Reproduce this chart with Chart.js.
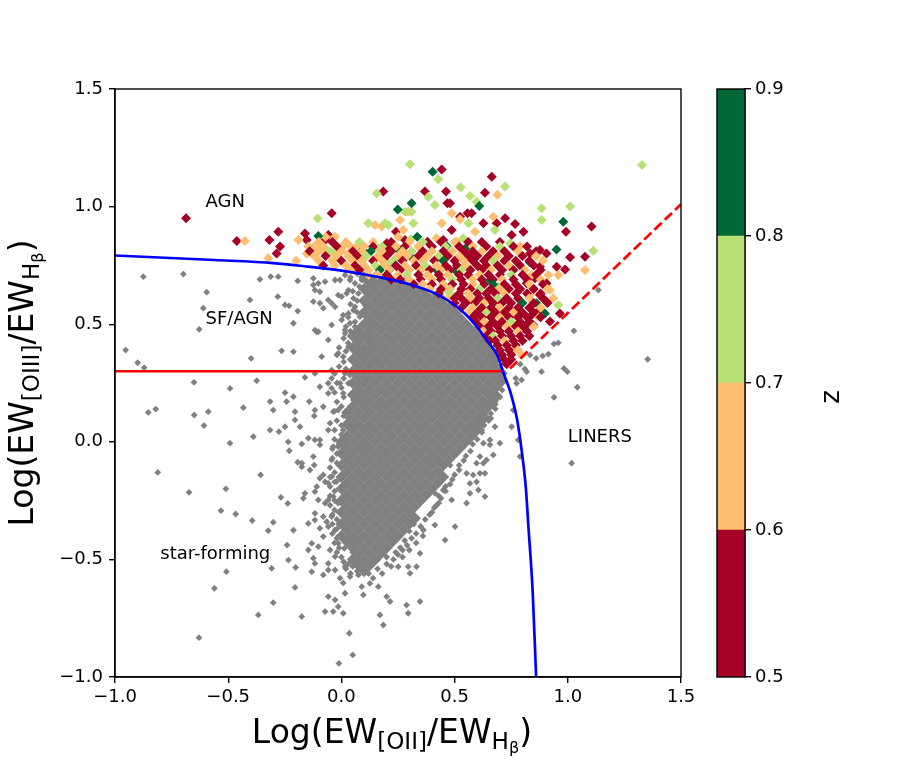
<!DOCTYPE html>
<html>
<head>
<meta charset="utf-8">
<script src="https://cdn.jsdelivr.net/npm/chart.js@4.4.1/dist/chart.umd.min.js"></script>
<style>
  html, body { margin: 0; padding: 0; background: #fff; }
  #wrap { position: relative; width: 913px; height: 762px; }
  #main { position: absolute; left: 0; top: 0; }
  #cbar { position: absolute; left: 700px; top: 0; }
</style>
</head>
<body>
<div id="wrap">
  <canvas id="main" width="913" height="762"></canvas>
  <canvas id="cbar" width="213" height="762"></canvas>
</div>
<script>
// demarcation curve
const curveX = [-1.0, -0.56, -0.3, -0.15, 0.0, 0.15, 0.3, 0.42, 0.52, 0.585, 0.64, 0.69, 0.715, 0.75, 0.775, 0.798, 0.815, 0.826, 0.845, 0.86];
const curveY = [0.792, 0.773, 0.76, 0.745, 0.728, 0.703, 0.67, 0.628, 0.567, 0.505, 0.435, 0.365, 0.295, 0.2, 0.1, -0.05, -0.2, -0.36, -0.64, -1.0];
// SF/AGN cut and LINER line
const cutX = [-1.0, 0.71];
const cutY = [0.3, 0.3];
const linerX = [0.745, 1.5];
const linerY = [0.312, 1.01];

// axis ticks
const xTicks = [-1.0, -0.5, 0.0, 0.5, 1.0, 1.5];
const yTicks = [-1.0, -0.5, 0.0, 0.5, 1.0, 1.5];

// colour bar (z bins)
const zEdges = [0.5, 0.6, 0.7, 0.8, 0.9];
const zColors = ['#a50026', '#fdbf6f', '#b7e075', '#006837'];

// region labels
const noteText = ['AGN', 'SF/AGN', 'LINERS', 'star-forming'];
const noteX = [-0.6, -0.6, 1.0, -0.8];
const noteY = [1.0, 0.5, 0.0, -0.5];

// dense core of the grey sample, row by row
const grayCoreY = [0.70, 0.675, 0.65, 0.625, 0.60, 0.575, 0.55, 0.525, 0.50, 0.475, 0.45, 0.425, 0.40, 0.375, 0.35, 0.325, 0.30, 0.275, 0.25, 0.225, 0.20, 0.175, 0.15, 0.125, 0.10, 0.075, 0.05, 0.025, 0.0, -0.025, -0.05, -0.075, -0.10, -0.125, -0.15, -0.175, -0.20, -0.225, -0.25, -0.275, -0.30, -0.325, -0.35, -0.375, -0.40, -0.425, -0.45, -0.475, -0.50, -0.525, -0.55];
const grayCoreX = [
  [0.10, 0.15, 0.20],
  [0.125, 0.175, 0.225, 0.275],
  [0.10, 0.15, 0.20, 0.25, 0.30, 0.35],
  [0.125, 0.175, 0.225, 0.275, 0.325, 0.375, 0.425],
  [0.10, 0.15, 0.20, 0.25, 0.30, 0.35, 0.40, 0.45],
  [0.125, 0.175, 0.225, 0.275, 0.325, 0.375, 0.425, 0.475],
  [0.10, 0.15, 0.20, 0.25, 0.30, 0.35, 0.40, 0.45, 0.50],
  [0.125, 0.175, 0.225, 0.275, 0.325, 0.375, 0.425, 0.475, 0.525],
  [0.10, 0.15, 0.20, 0.25, 0.30, 0.35, 0.40, 0.45, 0.50, 0.55],
  [0.075, 0.125, 0.175, 0.225, 0.275, 0.325, 0.375, 0.425, 0.475, 0.525, 0.575],
  [0.05, 0.10, 0.15, 0.20, 0.25, 0.30, 0.35, 0.40, 0.45, 0.50, 0.55, 0.60],
  [0.075, 0.125, 0.175, 0.225, 0.275, 0.325, 0.375, 0.425, 0.475, 0.525, 0.575, 0.625],
  [0.05, 0.10, 0.15, 0.20, 0.25, 0.30, 0.35, 0.40, 0.45, 0.50, 0.55, 0.60, 0.65],
  [0.075, 0.125, 0.175, 0.225, 0.275, 0.325, 0.375, 0.425, 0.475, 0.525, 0.575, 0.625, 0.67],
  [0.05, 0.10, 0.15, 0.20, 0.25, 0.30, 0.35, 0.40, 0.45, 0.50, 0.55, 0.60, 0.65, 0.68],
  [0.075, 0.125, 0.175, 0.225, 0.275, 0.325, 0.375, 0.425, 0.475, 0.525, 0.575, 0.625, 0.675],
  [0.05, 0.10, 0.15, 0.20, 0.25, 0.30, 0.35, 0.40, 0.45, 0.50, 0.55, 0.60, 0.65, 0.70],
  [0.075, 0.125, 0.175, 0.225, 0.275, 0.325, 0.375, 0.425, 0.475, 0.525, 0.575, 0.625, 0.675, 0.70],
  [0.05, 0.10, 0.15, 0.20, 0.25, 0.30, 0.35, 0.40, 0.45, 0.50, 0.55, 0.60, 0.65, 0.70],
  [0.075, 0.125, 0.175, 0.225, 0.275, 0.325, 0.375, 0.425, 0.475, 0.525, 0.575, 0.625, 0.675],
  [0.05, 0.10, 0.15, 0.20, 0.25, 0.30, 0.35, 0.40, 0.45, 0.50, 0.55, 0.60, 0.65, 0.68],
  [0.075, 0.125, 0.175, 0.225, 0.275, 0.325, 0.375, 0.425, 0.475, 0.525, 0.575, 0.625, 0.67],
  [0.05, 0.10, 0.15, 0.20, 0.25, 0.30, 0.35, 0.40, 0.45, 0.50, 0.55, 0.60, 0.65],
  [0.025, 0.075, 0.125, 0.175, 0.225, 0.275, 0.325, 0.375, 0.425, 0.475, 0.525, 0.575, 0.625],
  [0.05, 0.10, 0.15, 0.20, 0.25, 0.30, 0.35, 0.40, 0.45, 0.50, 0.55, 0.60, 0.63],
  [0.025, 0.075, 0.125, 0.175, 0.225, 0.275, 0.325, 0.375, 0.425, 0.475, 0.525, 0.575, 0.61],
  [0.05, 0.10, 0.15, 0.20, 0.25, 0.30, 0.35, 0.40, 0.45, 0.50, 0.55, 0.60],
  [0.025, 0.075, 0.125, 0.175, 0.225, 0.275, 0.325, 0.375, 0.425, 0.475, 0.525, 0.575],
  [0.00, 0.05, 0.10, 0.15, 0.20, 0.25, 0.30, 0.35, 0.40, 0.45, 0.50, 0.55],
  [0.025, 0.075, 0.125, 0.175, 0.225, 0.275, 0.325, 0.375, 0.425, 0.475, 0.525],
  [0.00, 0.05, 0.10, 0.15, 0.20, 0.25, 0.30, 0.35, 0.40, 0.45, 0.50],
  [0.025, 0.075, 0.125, 0.175, 0.225, 0.275, 0.325, 0.375, 0.425, 0.475],
  [0.00, 0.05, 0.10, 0.15, 0.20, 0.25, 0.30, 0.35, 0.40, 0.45],
  [0.025, 0.075, 0.125, 0.175, 0.225, 0.275, 0.325, 0.375, 0.425],
  [0.00, 0.05, 0.10, 0.15, 0.20, 0.25, 0.30, 0.35, 0.40, 0.45],
  [0.025, 0.075, 0.125, 0.175, 0.225, 0.275, 0.325, 0.375, 0.425],
  [0.00, 0.05, 0.10, 0.15, 0.20, 0.25, 0.30, 0.35, 0.40],
  [0.025, 0.075, 0.125, 0.175, 0.225, 0.275, 0.325, 0.375],
  [0.00, 0.05, 0.10, 0.15, 0.20, 0.25, 0.30, 0.35],
  [0.025, 0.075, 0.125, 0.175, 0.225, 0.275, 0.325],
  [0.00, 0.05, 0.10, 0.15, 0.20, 0.25, 0.30],
  [0.025, 0.075, 0.125, 0.175, 0.225, 0.275, 0.325],
  [0.00, 0.05, 0.10, 0.15, 0.20, 0.25, 0.30],
  [0.025, 0.075, 0.125, 0.175, 0.225, 0.275],
  [0.00, 0.05, 0.10, 0.15, 0.20, 0.25],
  [0.025, 0.075, 0.125, 0.175, 0.225],
  [0.05, 0.10, 0.15, 0.20],
  [0.075, 0.125, 0.175],
  [0.05, 0.10, 0.15],
  [0.075, 0.125],
  [0.10]
];

// outer grey points [x, y]
const grayPoints = [
  [-0.875,0.702],[-0.698,0.713],[-0.595,0.636],[-0.61,0.568],[-0.404,0.603],[-0.36,0.691],[-0.312,0.702],[-0.279,0.702],
  [-0.193,0.684],[-0.281,0.617],[-0.249,0.582],[-0.231,0.578],[-0.193,0.556],[-0.212,0.504],[-0.628,0.478],[-0.109,0.468],
  [-0.953,0.39],[-0.9,0.336],[-0.871,0.315],[-0.399,0.355],[-0.264,0.387],[-0.212,0.383],[-0.651,0.253],[-0.374,0.26],
  [-0.492,0.227],[-0.161,0.274],
  [-0.124,0.695],[-0.102,0.674],[-0.117,0.645],[-0.072,0.681],[-0.028,0.688],[0.016,0.709],[-0.095,0.589],[-0.08,0.568],
  [-0.058,0.603],[-0.028,0.574],[0.001,0.617],[0.031,0.645],[0.06,0.674],[0.09,0.688],[-0.043,0.497],[0.001,0.518],
  [0.031,0.546],[0.06,0.574],[-0.102,0.468],[-0.058,0.433],[0.016,0.461],[0.06,0.489],[0.031,0.404],[0.09,0.433],
  [0.119,0.461],[-0.014,0.376],[0.045,0.348],[0.104,0.376],[-0.043,0.305],[0.016,0.291],[0.075,0.305],[0.119,0.263],
  [0.031,0.249],[-0.058,0.249],[-0.117,0.291],[-0.087,0.362],
  [-0.124,0.667],[-0.095,0.638],[-0.043,0.589],[-0.014,0.624],[-0.124,0.596],[0.023,0.631],[0.053,0.61],[0.075,0.631],
  [0.104,0.582],[0.112,0.645],[0.141,0.667],[0.038,0.688],[-0.006,0.688],[0.053,0.56],[0.082,0.532],[0.038,0.504],
  [0.008,0.539],[0.112,0.518],[0.134,0.497],[0.156,0.539],[0.016,0.475],[0.045,0.454],[0.082,0.468],[0.119,0.447],
  [-0.117,0.475],[0.126,0.397],[0.075,0.397],[0.097,0.362],[0.008,0.362],[0.126,0.334],[0.156,0.355],[-0.043,0.27],
  [-0.006,0.249],[0.038,0.284],[0.075,0.249],[0.104,0.277],[0.126,0.234],[0.156,0.263],
  [-0.095,0.234],[-0.058,0.206],[0.008,0.206],[0.053,0.178],[0.09,0.199],[0.134,0.178],[-0.08,0.149],[-0.014,0.135],
  [0.023,0.107],[0.075,0.107],[0.112,0.128],[0.148,0.149],[-0.05,0.079],[0.008,0.05],[0.053,0.064],[0.097,0.036],
  [0.134,0.057],[-0.095,0.008],[-0.036,-0.021],[0.016,0.0],[0.06,-0.035],[0.104,-0.014],[0.148,-0.042],[0.038,-0.063],
  [0.112,-0.063],
  [-0.043,0.228],[-0.853,0.125],[-0.82,0.139],[-0.65,0.114],[-0.588,0.128],[-0.607,0.069],[-0.433,0.145],[-0.389,0.022],
  [-0.492,-0.006],[-0.315,0.171],[-0.301,0.135],[-0.249,0.209],[-0.212,0.192],[-0.242,0.171],[-0.205,0.128],[-0.205,0.093],
  [-0.183,0.064],[-0.315,0.05],[-0.276,0.043],[-0.249,0.064],[-0.142,0.171],[-0.117,0.135],[-0.12,0.11],[-0.036,0.128],
  [-0.811,-0.13],[-0.673,-0.215],[-0.51,-0.2],[-0.357,-0.141],[-0.532,-0.293],[-0.467,-0.307],[-0.394,-0.335],[-0.323,-0.378],
  [-0.301,-0.342],[-0.267,-0.236],[-0.237,-0.262],[-0.23,-0.038],[-0.193,-0.087],[-0.235,0.0],[-0.212,-0.376],[-0.24,-0.439],
  [-0.234,-0.503],[-0.508,-0.552],[-0.561,-0.623],[-0.308,-0.538],[-0.202,-0.534],[-0.205,-0.619],[-0.301,-0.684],[-0.367,-0.736],
  [-0.175,-0.743],[-0.629,-0.833],[-0.011,-0.942],
  [-0.146,0.015],[-0.117,0.008],[-0.058,0.05],[-0.014,-0.021],[0.001,-0.042],[-0.175,-0.106],[-0.139,-0.12],[-0.12,-0.099],
  [-0.095,-0.155],[-0.058,-0.176],[-0.043,-0.148],[-0.021,-0.169],[0.001,-0.19],[-0.161,-0.219],[-0.117,-0.212],[-0.102,-0.247],
  [-0.072,-0.261],[-0.036,-0.233],[-0.014,-0.261],[0.008,-0.247],[-0.146,-0.347],[-0.117,-0.333],[-0.08,-0.318],[-0.058,-0.361],
  [-0.028,-0.375],[0.001,-0.347],[-0.131,-0.432],[-0.102,-0.446],[-0.08,-0.403],[-0.05,-0.46],[-0.014,-0.432],[0.013,-0.453],
  [-0.117,-0.517],[-0.08,-0.566],[-0.058,-0.517],[-0.028,-0.545],[-0.006,-0.58],[0.016,-0.531],[-0.058,-0.658],[-0.028,-0.672],
  [-0.014,-0.701],[0.016,-0.644],[-0.072,-0.722],[-0.036,-0.722],
  [-0.175,-0.009],[-0.095,-0.013],[-0.175,-0.091],[-0.124,-0.063],[-0.08,-0.141],[-0.043,-0.077],[-0.168,-0.24],[-0.109,-0.191],
  [-0.072,-0.17],[-0.058,-0.247],[-0.117,-0.304],[-0.095,-0.368],[-0.065,-0.34],[-0.043,-0.318],[-0.146,-0.46],[-0.124,-0.495],
  [-0.131,-0.552],[-0.058,-0.545],[-0.028,-0.488],[0.008,-0.729],[0.008,-0.6],[0.038,-0.573],[0.075,-0.566],[0.09,-0.616],
  [0.097,-0.651],[0.126,-0.602],[0.163,-0.616],[0.2,-0.658],[0.215,-0.679],[0.17,-0.736],[0.185,-0.779],[0.035,-0.814],
  [0.05,-0.906],[0.288,-0.694],[0.295,-0.729],[0.347,-0.679],[0.251,-0.531],[0.295,-0.531],[0.332,-0.531],[0.303,-0.559],
  [0.347,-0.474],[0.362,-0.375],[0.413,-0.354],[0.458,-0.418],[0.502,-0.361],[0.413,-0.219],[0.45,-0.205],[0.487,-0.247],
  [0.553,-0.261],[0.568,-0.219],[0.605,-0.205],[0.634,-0.233],[0.553,-0.134],[0.582,-0.141],[0.612,-0.134],[0.634,-0.134],
  [0.568,-0.177],[0.597,-0.17],[0.612,-0.063],[0.641,-0.077],[0.671,-0.056],[0.597,-0.091],[0.627,-0.006],[0.656,-0.013],
  [0.597,0.093],[0.641,0.107],[0.678,0.064],[0.70,-0.006],[0.656,0.008],[0.583,0.036],[0.62,0.05],
  [0.40,-0.30],[0.42,-0.27],[0.45,-0.15],[0.48,-0.10],[0.51,-0.05],[0.54,-0.02],[0.64,0.15],[0.66,0.18],
  [0.68,0.22],[0.70,0.25],[0.52,-0.12],[0.46,-0.19],[0.43,-0.23],[0.36,-0.40],[0.33,-0.43],[0.30,-0.46],
  [0.27,-0.49],[0.66,0.10],[0.68,0.14],[0.70,0.19],
  [0.05,-0.47],[0.08,-0.50],[0.12,-0.52],[0.16,-0.50],[0.20,-0.49],[0.24,-0.47],[0.03,-0.52],[0.10,-0.55],
  [0.22,-0.53],[0.26,-0.45],[0.28,-0.42],[0.06,-0.43],[0.04,-0.40],[0.02,-0.36],[0.30,-0.38],[0.32,-0.35],
  [0.14,-0.58],[0.18,-0.56],
  [0.07,0.715],[0.04,0.70],[0.08,0.66],[0.05,0.64],[0.07,0.60],[0.04,0.585],[0.07,0.55],[0.03,0.53],
  [0.06,0.51],[0.02,0.49],[0.04,0.47],[0.01,0.44],[0.03,0.42],[-0.01,0.40],[0.02,0.385],[-0.02,0.37],
  [0.01,0.34],[-0.01,0.32],[0.02,0.31],[-0.03,0.29],[0.01,0.27],[-0.02,0.25],[0.00,0.23],[-0.03,0.21],
  [0.01,0.19],[-0.02,0.17],[0.00,0.15],[-0.03,0.13],[0.01,0.11],[-0.02,0.09],[0.00,0.07],[-0.03,0.05],
  [0.00,0.03],[-0.03,0.01],[-0.01,-0.01],[-0.04,-0.03],[-0.02,-0.05],[-0.04,-0.07],[-0.02,-0.09],[-0.05,-0.11],
  [-0.03,-0.13],[-0.05,-0.15],[-0.03,-0.17],[-0.05,-0.19],[-0.03,-0.21],[-0.05,-0.23],[-0.03,-0.25],[-0.05,-0.27],
  [-0.03,-0.29],[-0.04,-0.31],[-0.02,-0.33],[-0.04,-0.35],[-0.02,-0.37],[-0.04,-0.39],[-0.02,-0.41],[-0.03,-0.43],
  [-0.01,-0.45],[-0.02,-0.47],[0.00,-0.49],[0.01,-0.51],[0.02,-0.54],[0.05,-0.53],[0.04,-0.56],[0.07,-0.55],
  [0.12,-0.56],[0.16,-0.54],[0.20,-0.52],[0.23,-0.50],[0.25,-0.48],[0.27,-0.46],[0.29,-0.44],[0.31,-0.41],
  [0.33,-0.39],[0.35,-0.36],[0.37,-0.33],[0.39,-0.31],[0.41,-0.28],[0.43,-0.26],[0.44,-0.24],[0.46,-0.21],
  [0.48,-0.18],[0.49,-0.16],[0.50,-0.14],[0.52,-0.10],[0.54,-0.08],[0.55,-0.06],[0.57,-0.04],[0.58,-0.01],
  [0.60,0.01],[0.62,0.04],[0.63,0.07],[0.65,0.09],[0.66,0.12],[0.68,0.16],[0.69,0.19],[0.71,0.22],
  [0.72,0.26],[0.72,0.29],
  [1.135,0.645],[1.027,0.472],[0.958,0.421],[0.939,0.416],[0.914,0.373],[0.889,0.365],[0.86,0.355],[0.833,0.369],
  [0.983,0.312],[0.998,0.298],[1.353,0.351],[1.042,0.232],[0.939,0.189],[0.884,0.298],[0.818,0.298],[0.796,0.263],
  [0.774,0.249],[1.017,-0.091],[0.759,0.135],[0.752,0.064],[0.781,0.008],[0.789,-0.063],[0.627,-0.091],[0.79,0.33],
  [0.81,0.31],[0.77,0.27]
];

// AGN-like sources with redshift [x, y, z]
const agnPoints = [
  [-0.686,0.95,0.56],[-0.462,0.854,0.53],[-0.318,0.858,0.57],[-0.279,0.893,0.55],[-0.271,0.83,0.58],[-0.286,0.801,0.54],
  [-0.043,0.972,0.56],[-0.161,0.886,0.52],[-0.153,0.858,0.57],[0.185,1.064,0.55],[0.2,0.844,0.58],[0.281,0.858,0.53],
  [0.443,1.158,0.56],[0.369,1.064,0.54],[0.462,1.064,0.57],[0.468,1.014,0.55],[0.557,0.972,0.52],[0.487,0.9,0.58],
  [0.241,0.893,0.56],[0.38,0.851,0.54],[0.45,0.858,0.57],[-0.058,0.879,0.55],[-0.072,0.858,0.53],[0.207,0.823,0.56],
  [0.664,1.127,0.55],[0.634,1.059,0.58],[0.48,1.014,0.56],[0.992,0.893,0.57],[1.105,0.915,0.53],[0.627,0.929,0.55],
  [0.686,0.929,0.58],[0.723,0.95,0.54],[0.767,0.926,0.56],[0.804,0.893,0.52],[0.752,0.879,0.57],[0.575,0.972,0.55],
  [0.524,0.957,0.58],[1.076,0.787,0.54],[1.01,0.785,0.56],[0.988,0.733,0.55],[0.951,0.744,0.57],[0.906,0.801,0.53],
  [0.877,0.816,0.58],[0.833,0.801,0.55],[0.877,0.744,0.56],[0.855,0.695,0.54],[0.818,0.674,0.57],[0.906,0.674,0.55],
  [0.847,0.652,0.53],[0.877,0.624,0.58],[0.906,0.596,0.56],[0.965,0.546,0.54],[0.921,0.511,0.57],[0.877,0.561,0.55],
  [0.833,0.532,0.52],[0.847,0.497,0.56],[0.804,0.483,0.58],[0.73,0.334,0.55],
  [-0.426,0.854,0.64],[-0.19,0.858,0.66],[-0.146,0.83,0.63],[-0.153,0.801,0.67],[-0.07,0.872,0.65],[-0.028,0.872,0.62],
  [-0.087,0.816,0.68],[-0.058,0.801,0.64],[-0.021,0.83,0.66],[0.016,0.844,0.63],[0.031,0.801,0.67],[0.06,0.773,0.65],
  [-0.323,0.78,0.62],[0.259,0.943,0.66],[0.295,0.978,0.64],[0.251,0.872,0.68],[0.148,0.922,0.63],[0.178,0.915,0.65],
  [0.443,0.929,0.67],[0.487,0.972,0.62],[0.524,0.946,0.66],[0.273,0.9,0.64],[0.42,0.865,0.68],[0.509,0.851,0.63],
  [0.689,1.05,0.65],[0.671,0.957,0.67],[0.59,0.893,0.62],[1.076,0.73,0.66],[0.914,0.709,0.64],[0.958,0.709,0.68],
  [0.789,0.83,0.63],[0.84,0.709,0.65],[0.921,0.645,0.67],[0.833,0.624,0.62],[0.936,0.61,0.66],[0.869,0.532,0.64],
  [0.759,0.39,0.68],[0.796,0.369,0.63],[0.001,0.823,0.65],[-0.065,0.816,0.67],[-0.036,0.801,0.62],[0.067,0.83,0.66],
  [-0.105,0.949,0.74],[0.163,0.823,0.76],[0.119,0.929,0.72],[0.193,0.929,0.77],[0.156,1.056,0.75],[0.303,1.18,0.73],
  [0.207,0.759,0.76],[0.178,0.773,0.74],[0.428,1.116,0.77],[0.384,1.042,0.72],[0.527,1.082,0.75],[0.413,1.007,0.74],
  [0.281,0.978,0.76],[0.31,0.978,0.73],[0.207,0.922,0.77],[0.318,0.929,0.75],[0.561,0.929,0.72],[0.306,0.861,0.74],
  [0.538,0.865,0.76],[0.723,1.085,0.73],[0.568,1.045,0.77],[0.597,1.021,0.75],[0.884,0.993,0.74],[1.01,1.0,0.72],
  [0.884,0.943,0.76],[1.113,0.812,0.75],[0.678,0.9,0.73],[0.745,0.844,0.77],[0.958,0.582,0.74],[0.671,0.575,0.76],
  [0.745,0.553,0.72],[0.693,0.66,0.75],[0.656,0.476,0.73],[1.328,1.177,0.74],[0.509,0.617,0.77],[0.458,0.652,0.75],
  [-0.102,0.875,0.84],[0.249,0.988,0.86],[0.31,1.014,0.83],[0.251,0.816,0.85],[0.307,0.787,0.87],[0.403,1.148,0.84],
  [0.335,0.872,0.82],[0.465,0.832,0.85],[0.553,0.827,0.86],[0.094,0.816,0.83],[0.609,1.003,0.85],[0.98,0.936,0.84],
  [0.95,0.818,0.87],[0.833,0.762,0.83],[0.862,0.589,0.85],[0.899,0.546,0.86],[0.59,0.596,0.84],[0.656,0.688,0.82],
  [0.211,0.73,0.85],[0.42,0.73,0.87],[0.502,0.73,0.84],
  [-0.10,0.85,0.64],[-0.04,0.85,0.56],[0.02,0.85,0.66],[0.08,0.85,0.75],[0.14,0.85,0.63],[0.22,0.85,0.55],[0.30,0.85,0.67],
  [0.36,0.85,0.73],[0.44,0.85,0.57],[0.50,0.85,0.65],[0.56,0.85,0.54],[0.62,0.85,0.58],[0.70,0.85,0.55],
  [-0.12,0.83,0.65],[-0.08,0.83,0.62],[-0.02,0.83,0.55],[0.04,0.83,0.67],[0.10,0.83,0.64],[0.14,0.83,0.57],[0.18,0.83,0.76],
  [0.24,0.83,0.66],[0.28,0.83,0.53],[0.34,0.83,0.63],[0.40,0.83,0.56],[0.46,0.83,0.74],[0.52,0.83,0.58],[0.58,0.83,0.65],
  [0.64,0.83,0.55],[0.70,0.83,0.77],[0.76,0.83,0.54],[0.82,0.83,0.57],
  [-0.14,0.81,0.55],[-0.10,0.81,0.66],[-0.05,0.81,0.73],[0.00,0.81,0.64],[0.05,0.81,0.57],[0.09,0.81,0.68],[0.13,0.81,0.85],
  [0.18,0.81,0.63],[0.22,0.81,0.54],[0.27,0.81,0.65],[0.31,0.81,0.76],[0.36,0.81,0.56],[0.40,0.81,0.67],[0.45,0.81,0.53],
  [0.49,0.81,0.62],[0.54,0.81,0.58],[0.58,0.81,0.55],[0.62,0.81,0.66],[0.67,0.81,0.57],[0.72,0.81,0.54],[0.78,0.81,0.64],
  [0.86,0.81,0.56],
  [-0.12,0.79,0.63],[-0.07,0.79,0.57],[-0.02,0.79,0.65],[0.03,0.79,0.68],[0.07,0.79,0.55],[0.11,0.79,0.74],[0.16,0.79,0.66],
  [0.20,0.79,0.53],[0.25,0.79,0.64],[0.29,0.79,0.62],[0.34,0.79,0.58],[0.38,0.79,0.67],[0.43,0.79,0.77],[0.47,0.79,0.56],
  [0.52,0.79,0.65],[0.56,0.79,0.54],[0.60,0.79,0.57],[0.65,0.79,0.55],[0.69,0.79,0.63],[0.74,0.79,0.58],[0.80,0.79,0.53],
  [0.86,0.79,0.66],
  [-0.20,0.77,0.65],[-0.10,0.77,0.62],[-0.04,0.77,0.67],[0.00,0.77,0.56],[0.05,0.77,0.64],[0.09,0.77,0.66],[0.14,0.77,0.55],
  [0.18,0.77,0.63],[0.23,0.77,0.72],[0.27,0.77,0.57],[0.32,0.77,0.68],[0.36,0.77,0.65],[0.41,0.77,0.54],[0.45,0.77,0.86],
  [0.50,0.77,0.58],[0.54,0.77,0.62],[0.58,0.77,0.55],[0.63,0.77,0.53],[0.67,0.77,0.75],[0.72,0.77,0.57],[0.77,0.77,0.56],
  [0.83,0.77,0.54],[0.89,0.77,0.64],
  [-0.08,0.75,0.55],[-0.03,0.75,0.66],[0.02,0.75,0.63],[0.06,0.75,0.57],[0.10,0.75,0.65],[0.15,0.75,0.76],[0.19,0.75,0.67],
  [0.24,0.75,0.54],[0.28,0.75,0.62],[0.33,0.75,0.56],[0.37,0.75,0.73],[0.42,0.75,0.64],[0.46,0.75,0.58],[0.51,0.75,0.55],
  [0.55,0.75,0.66],[0.60,0.75,0.53],[0.64,0.75,0.57],[0.69,0.75,0.55],[0.74,0.75,0.63],[0.79,0.75,0.56],[0.85,0.75,0.58],
  [0.04,0.73,0.64],[0.08,0.73,0.56],[0.12,0.73,0.66],[0.17,0.73,0.84],[0.21,0.73,0.62],[0.26,0.73,0.55],[0.30,0.73,0.67],
  [0.35,0.73,0.65],[0.39,0.73,0.57],[0.44,0.73,0.63],[0.48,0.73,0.54],[0.53,0.73,0.74],[0.57,0.73,0.56],[0.62,0.73,0.58],
  [0.66,0.73,0.65],[0.71,0.73,0.55],[0.76,0.73,0.53],[0.81,0.73,0.66],[0.88,0.73,0.57],
  [0.12,0.71,0.65],[0.16,0.71,0.63],[0.20,0.71,0.57],[0.25,0.71,0.66],[0.29,0.71,0.77],[0.34,0.71,0.55],[0.38,0.71,0.64],
  [0.43,0.71,0.58],[0.47,0.71,0.67],[0.52,0.71,0.54],[0.56,0.71,0.56],[0.61,0.71,0.62],[0.65,0.71,0.57],[0.70,0.71,0.53],
  [0.75,0.71,0.72],[0.80,0.71,0.55],[0.86,0.71,0.58],
  [0.22,0.69,0.55],[0.26,0.69,0.56],[0.30,0.69,0.65],[0.35,0.69,0.54],[0.40,0.69,0.68],[0.44,0.69,0.57],[0.49,0.69,0.75],
  [0.53,0.69,0.55],[0.58,0.69,0.63],[0.62,0.69,0.58],[0.67,0.69,0.53],[0.71,0.69,0.66],[0.76,0.69,0.56],[0.82,0.69,0.54],
  [0.88,0.69,0.64],
  [0.32,0.67,0.57],[0.36,0.67,0.62],[0.40,0.67,0.55],[0.45,0.67,0.66],[0.49,0.67,0.57],[0.54,0.67,0.54],[0.58,0.67,0.65],
  [0.63,0.67,0.56],[0.67,0.67,0.84],[0.72,0.67,0.58],[0.77,0.67,0.55],[0.83,0.67,0.67],[0.89,0.67,0.53],
  [0.39,0.65,0.66],[0.44,0.65,0.57],[0.48,0.65,0.63],[0.53,0.65,0.55],[0.57,0.65,0.58],[0.61,0.65,0.74],[0.66,0.65,0.54],
  [0.70,0.65,0.65],[0.74,0.65,0.56],[0.79,0.65,0.57],[0.85,0.65,0.55],[0.91,0.65,0.62],
  [0.43,0.63,0.55],[0.48,0.63,0.76],[0.52,0.63,0.56],[0.56,0.63,0.66],[0.60,0.63,0.53],[0.64,0.63,0.57],[0.68,0.63,0.55],
  [0.72,0.63,0.64],[0.77,0.63,0.58],[0.82,0.63,0.54],[0.88,0.63,0.56],
  [0.47,0.61,0.64],[0.50,0.61,0.57],[0.53,0.61,0.55],[0.57,0.61,0.67],[0.61,0.61,0.57],[0.65,0.61,0.54],[0.69,0.61,0.73],
  [0.73,0.61,0.56],[0.78,0.61,0.58],[0.83,0.61,0.63],[0.89,0.61,0.55],
  [0.50,0.59,0.56],[0.55,0.59,0.57],[0.59,0.59,0.54],[0.63,0.59,0.65],[0.67,0.59,0.56],[0.71,0.59,0.58],[0.75,0.59,0.55],
  [0.80,0.59,0.86],[0.85,0.59,0.53],[0.91,0.59,0.57],
  [0.53,0.57,0.54],[0.58,0.57,0.66],[0.62,0.57,0.55],[0.66,0.57,0.57],[0.70,0.57,0.62],[0.74,0.57,0.54],[0.78,0.57,0.56],
  [0.83,0.57,0.58],[0.88,0.57,0.65],
  [0.56,0.55,0.65],[0.60,0.55,0.56],[0.64,0.55,0.76],[0.68,0.55,0.55],[0.72,0.55,0.53],[0.76,0.55,0.64],[0.80,0.55,0.57],
  [0.85,0.55,0.55],
  [0.58,0.53,0.56],[0.62,0.53,0.54],[0.66,0.53,0.57],[0.70,0.53,0.67],[0.74,0.53,0.55],[0.78,0.53,0.58],[0.82,0.53,0.56],
  [0.88,0.53,0.54],
  [0.595,0.51,0.55],[0.63,0.51,0.63],[0.67,0.51,0.56],[0.71,0.51,0.55],[0.75,0.51,0.75],[0.79,0.51,0.57],[0.83,0.51,0.53],
  [0.61,0.49,0.57],[0.65,0.49,0.55],[0.69,0.49,0.58],[0.73,0.49,0.66],[0.77,0.49,0.54],[0.81,0.49,0.56],[0.85,0.49,0.64],
  [0.625,0.47,0.66],[0.66,0.47,0.57],[0.70,0.47,0.55],[0.74,0.47,0.53],[0.78,0.47,0.65],[0.82,0.47,0.56],
  [0.64,0.45,0.55],[0.67,0.45,0.74],[0.71,0.45,0.56],[0.75,0.45,0.58],[0.79,0.45,0.55],[0.83,0.45,0.57],
  [0.655,0.43,0.54],[0.68,0.43,0.55],[0.72,0.43,0.63],[0.76,0.43,0.54],[0.80,0.43,0.57],
  [0.69,0.41,0.56],[0.73,0.41,0.58],[0.77,0.41,0.55],
  [0.70,0.39,0.54],[0.74,0.39,0.57],[0.78,0.39,0.66],
  [0.71,0.37,0.55],[0.75,0.37,0.58],
  [0.72,0.35,0.56],[0.75,0.35,0.54],
  [0.73,0.33,0.57]
];

const FONT = '"DejaVu Sans", sans-serif';
const xLabelParts = [['Log(EW', 1, 0], ['[OII]', 0.7, 0.18], ['/EW', 1, 0], ['H', 0.7, 0.18], ['\u03b2', 0.49, 0.3], [')', 1, 0]];
const yLabelParts = [['Log(EW', 1, 0], ['[OIII]', 0.7, 0.18], ['/EW', 1, 0], ['H', 0.7, 0.18], ['\u03b2', 0.49, 0.3], [')', 1, 0]];

function tickText(v) {
  return (v < 0 ? '\u2212' : '') + Math.abs(v).toFixed(1);
}

function zColor(z) {
  for (let i = 0; i < zColors.length; i++) {
    if (z < zEdges[i + 1]) return zColors[i];
  }
  return zColors[zColors.length - 1];
}

// writes a label with subscripts centred on the current origin
function drawMath(ctx, parts, size) {
  let total = 0;
  const widths = parts.map(p => {
    ctx.font = (size * p[1]) + 'px ' + FONT;
    const w = ctx.measureText(p[0]).width;
    total += w;
    return w;
  });
  let cx = -total / 2;
  ctx.textAlign = 'left';
  ctx.textBaseline = 'alphabetic';
  parts.forEach((p, i) => {
    ctx.font = (size * p[1]) + 'px ' + FONT;
    ctx.fillText(p[0], cx, p[2] * size);
    cx += widths[i];
  });
}

const corePts = [];
grayCoreY.forEach((y, i) => grayCoreX[i].forEach(x => corePts.push({x: x, y: y})));

const overlay = {
  id: 'overlay',
  afterDraw(chart) {
    const ctx = chart.ctx;
    const a = chart.chartArea;
    const xs = chart.scales.x, ys = chart.scales.y;
    ctx.save();
    ctx.strokeStyle = '#000';
    ctx.lineWidth = 1.4;
    ctx.strokeRect(a.left, a.top, a.right - a.left, a.bottom - a.top);

    ctx.fillStyle = '#000';
    ctx.font = '18px ' + FONT;
    ctx.textAlign = 'left';
    ctx.textBaseline = 'alphabetic';
    noteText.forEach((t, i) => {
      ctx.fillText(t, xs.getPixelForValue(noteX[i]), ys.getPixelForValue(noteY[i]));
    });

    ctx.save();
    ctx.translate((a.left + a.right) / 2 - 6, a.bottom + 66);
    drawMath(ctx, xLabelParts, 33);
    ctx.restore();

    ctx.save();
    ctx.translate(a.left - 82, (a.top + a.bottom) / 2);
    ctx.rotate(-Math.PI / 2);
    drawMath(ctx, yLabelParts, 33);
    ctx.restore();
    ctx.restore();
  }
};

new Chart(document.getElementById('main'), {
  type: 'scatter',
  data: {
    datasets: [
      {
        data: curveX.map((x, i) => ({x: x, y: curveY[i]})),
        showLine: true, borderColor: '#0000ff', borderWidth: 2.7, pointRadius: 0,
        cubicInterpolationMode: 'monotone', fill: false, order: 0
      },
      {
        data: cutX.map((x, i) => ({x: x, y: cutY[i]})),
        showLine: true, borderColor: '#ff0000', borderWidth: 2.7, pointRadius: 0, fill: false, order: 0
      },
      {
        data: linerX.map((x, i) => ({x: x, y: linerY[i]})),
        showLine: true, borderColor: '#ff0000', borderWidth: 2.7, borderDash: [10, 4.3],
        pointRadius: 0, fill: false, order: 0
      },
      {
        data: agnPoints.map(p => ({x: p[0], y: p[1]})),
        pointStyle: 'rectRot', pointRadius: 5, borderWidth: 0,
        backgroundColor: agnPoints.map(p => zColor(p[2])), order: 1
      },
      {
        data: grayPoints.map(p => ({x: p[0], y: p[1]})),
        pointStyle: 'rectRot', pointRadius: 3.4, borderWidth: 0, backgroundColor: '#808080', order: 2
      },
      {
        data: corePts,
        pointStyle: 'rectRot', pointRadius: 6, borderWidth: 0, backgroundColor: '#808080', order: 3
      }
    ]
  },
  options: {
    responsive: false,
    animation: false,
    events: [],
    layout: { padding: { left: 0, right: 232, top: 89, bottom: 0 } },
    plugins: { legend: { display: false }, tooltip: { enabled: false } },
    scales: {
      x: {
        type: 'linear', min: -1, max: 1.5,
        afterFit(s) { s.height = 85; },
        afterBuildTicks(s) { s.ticks = xTicks.map(v => ({value: v})); },
        ticks: { callback: tickText, color: '#000', font: { family: FONT, size: 18 }, padding: 4, maxRotation: 0, autoSkip: false },
        grid: { drawOnChartArea: false, drawTicks: true, tickLength: 6, color: '#000', lineWidth: 1.4 },
        border: { display: true, color: '#000', width: 1.4 }
      },
      y: {
        type: 'linear', min: -1, max: 1.5,
        afterFit(s) { s.width = 115; },
        afterBuildTicks(s) { s.ticks = yTicks.map(v => ({value: v})); },
        ticks: { callback: tickText, color: '#000', font: { family: FONT, size: 18 }, padding: 6, autoSkip: false },
        grid: { drawOnChartArea: false, drawTicks: true, tickLength: 6, color: '#000', lineWidth: 1.4 },
        border: { display: true, color: '#000', width: 1.4 }
      }
    }
  },
  plugins: [overlay]
});

const cbarFrame = {
  id: 'cbarFrame',
  afterDraw(chart) {
    const ctx = chart.ctx;
    const a = chart.chartArea;
    ctx.save();
    ctx.strokeStyle = '#000';
    ctx.lineWidth = 1.4;
    ctx.strokeRect(a.left, a.top, a.right - a.left, a.bottom - a.top);
    ctx.fillStyle = '#000';
    ctx.font = '26px ' + FONT;
    ctx.textAlign = 'center';
    ctx.textBaseline = 'alphabetic';
    ctx.translate(a.right + 94, (a.top + a.bottom) / 2 + 14);
    ctx.rotate(-Math.PI / 2);
    ctx.fillText('z', 0, 0);
    ctx.restore();
  }
};

new Chart(document.getElementById('cbar'), {
  type: 'bar',
  data: {
    labels: [''],
    datasets: zColors.map((c, i) => ({
      data: [[zEdges[i], zEdges[i + 1]]],
      backgroundColor: c, borderWidth: 0, barPercentage: 1, categoryPercentage: 1, grouped: false
    }))
  },
  options: {
    responsive: false,
    animation: false,
    events: [],
    layout: { padding: { left: 17, right: 63, top: 89, bottom: 85 } },
    plugins: { legend: { display: false }, tooltip: { enabled: false } },
    scales: {
      x: { display: false },
      y: {
        position: 'right', min: zEdges[0], max: zEdges[zEdges.length - 1],
        afterFit(s) { s.width = 105; },
        afterBuildTicks(s) { s.ticks = zEdges.map(v => ({value: v})); },
        ticks: { callback: v => v.toFixed(1), color: '#000', font: { family: FONT, size: 18 }, padding: 4 },
        grid: { drawOnChartArea: false, drawTicks: true, tickLength: 6, color: '#000', lineWidth: 1.4 },
        border: { display: true, color: '#000', width: 1.4 }
      }
    }
  },
  plugins: [cbarFrame]
});
</script>
</body>
</html>
